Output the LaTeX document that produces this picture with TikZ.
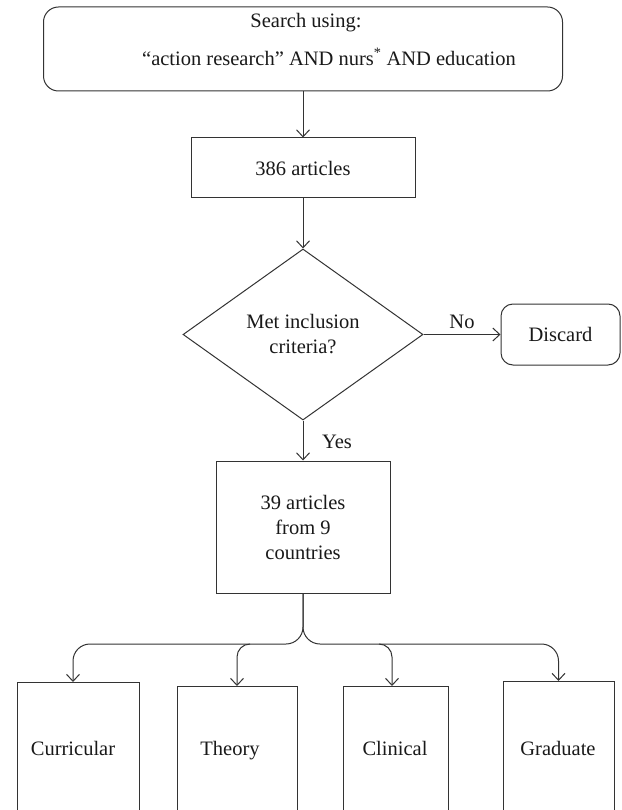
\documentclass[tikz,border=0pt]{standalone}
\usepackage{fontspec}
\setmainfont{Liberation Serif}
\usetikzlibrary{shapes.geometric,arrows.meta}
\newcommand\diagfont{\fontsize{20.5}{25}\selectfont}
\begin{document}
\begin{tikzpicture}[x=1pt,y=-1pt,
  line/.style={draw=black!80, line width=1pt},
  arr/.style={line, -{Straight Barb[length=7pt,width=13pt]}},
  box/.style={line, rectangle, inner sep=0pt, align=center, text=black!90, font=\diagfont},
  rbox/.style={box, rounded corners=15pt},
  bbox/.style={box, anchor=north},
  lbl/.style={inner sep=0pt, text=black!90, font=\diagfont, align=center},
  blbl/.style={lbl, anchor=base}]
\clip (0,0) rectangle (621,810);
\fill[white] (0,0) rectangle (621,810);
% top search box
\node[rbox, minimum width=519pt, minimum height=84pt] (search) at (303,49) {};
\node[lbl] (s1) at (306,23) {Search using:};
\node[lbl] (s2) at (329,57) {“action research” AND nurs\textsuperscript{*} AND education};
% 386
\node[box, minimum width=224pt, minimum height=60pt] (a386) at (303,168) {386 articles};
% diamond
\node[line, diamond, minimum width=240pt, minimum height=171pt, inner sep=0pt,
      align=center, font=\diagfont, text=black!90] (crit) at (303,334.5) {Met inclusion\\criteria?};
% discard
\node[rbox, rounded corners=12pt, minimum width=119pt, minimum height=61pt] (disc) at (560.5,334.5) {Discard};
\node[lbl] (no) at (462,322) {No};
% 39 articles
\node[box, minimum width=174pt, minimum height=132pt] (a39) at (303,527) {39 articles\\from 9\\countries};
\node[lbl] (yes) at (337,442) {Yes};
% bottom boxes
\node[bbox, minimum width=122pt, minimum height=132pt] (cur) at (78,682) {};
\node[bbox, minimum width=120pt, minimum height=128pt] (the) at (237,686) {};
\node[bbox, minimum width=105pt, minimum height=128pt] (cli) at (395.5,686) {};
\node[bbox, minimum width=111pt, minimum height=133pt] (gra) at (558.5,681) {};
\node[blbl] (curt) at (73,755.5) {Curricular};
\node[blbl] (thet) at (230,755.5) {Theory};
\node[blbl] (clit) at (395,755.5) {Clinical};
\node[blbl] (grat) at (558,755.5) {Graduate};
\coordinate (curin) at ([xshift=-5pt]cur.north);
\coordinate (thein) at (the.north);
\coordinate (cliin) at ([xshift=-3.5pt]cli.north);
\coordinate (grain) at (gra.north);
% connectors
\draw[arr] (search.south) -- (a386.north);
\draw[arr] (a386.south) -- (crit.north);
\draw[arr] (crit.east) -- (disc.west);
\draw[arr] (crit.south) -- (a39.north);
\coordinate (hy) at (0,644);
\coordinate (tb) at (250,644);
\coordinate (cb) at (379,644);
\draw[arr, rounded corners=17pt] (a39.south) |- (hy -| curin) -- (curin);
\draw[arr, rounded corners=17pt] (a39.south) |- (hy -| grain) -- (grain);
\draw[arr, rounded corners=13pt] (tb) -| (thein);
\draw[arr, rounded corners=13pt] (cb) -| (cliin);
\end{tikzpicture}
\end{document}
